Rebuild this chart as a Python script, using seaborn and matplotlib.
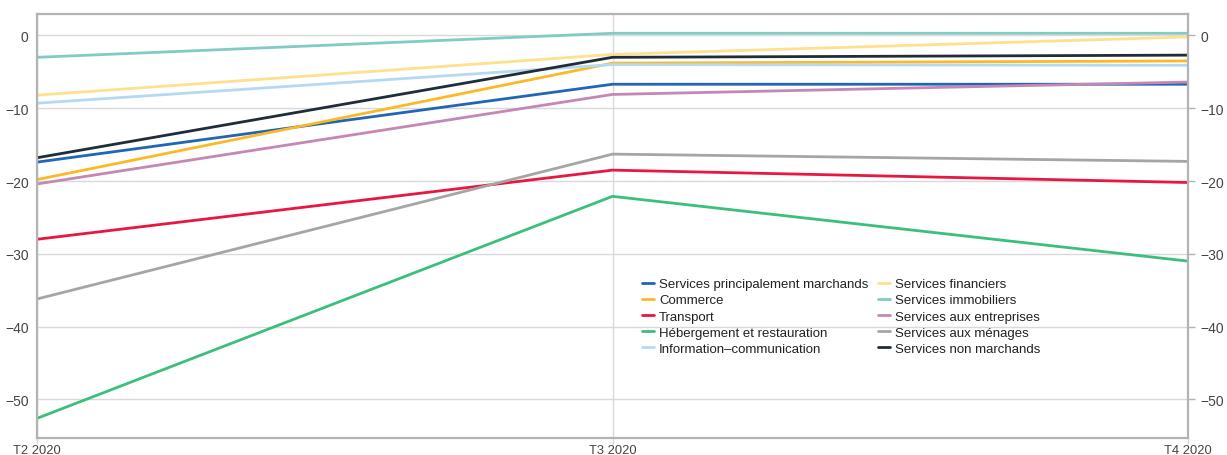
import matplotlib
matplotlib.use("Agg")
import matplotlib.pyplot as plt
import seaborn as sns
import pandas as pd

# Quarters on the x axis
quarters = ["T2 2020", "T3 2020", "T4 2020"]

# Series (legend order, column by column)
series = [
    "Services principalement marchands",
    "Commerce",
    "Transport",
    "Hébergement et restauration",
    "Information\u2013communication",
    "Services financiers",
    "Services immobiliers",
    "Services aux entreprises",
    "Services aux ménages",
    "Services non marchands",
]

marchands = [-17.4, -6.7, -6.7]
commerce = [-19.8, -3.8, -3.5]
transport = [-28.0, -18.5, -20.2]
hebergement = [-52.6, -22.1, -31.0]
information = [-9.3, -4.0, -4.1]
financiers = [-8.2, -2.6, -0.2]
immobiliers = [-3.0, 0.3, 0.3]
entreprises = [-20.4, -8.1, -6.4]
menages = [-36.2, -16.3, -17.3]
non_marchands = [-16.8, -3.0, -2.7]

values = [marchands, commerce, transport, hebergement, information,
          financiers, immobiliers, entreprises, menages, non_marchands]

colors = ["#2166b5", "#fcb926", "#e8173f", "#3cbf7d", "#b5d9f3",
          "#fee08f", "#80cbc4", "#c587b4", "#a5a5a5", "#1f2d3a"]

rows = []
for name, vals in zip(series, values):
    for i, v in enumerate(vals):
        rows.append({"serie": name, "x": i, "valeur": v})
df = pd.DataFrame(rows)

sns.set_theme(style="white")
plt.rcParams["font.family"] = ["Liberation Sans", "DejaVu Sans"]

fig = plt.figure(figsize=(12.27, 4.56), dpi=100)
ax = fig.add_axes([37 / 1227, 1 - 439 / 456, (1188 - 37) / 1227, (439 - 15) / 456])

sns.lineplot(data=df, x="x", y="valeur", hue="serie", hue_order=series,
             palette=colors, linewidth=2.0, sort=False, ax=ax, legend=True)

ymin, ymax = -55.3, 2.95
ax.set_xlim(0, 2)
ax.set_ylim(ymin, ymax)
ax.set_xticks([0, 1, 2])
ax.set_xticklabels(quarters)
ax.set_yticks([0, -10, -20, -30, -40, -50])
ax.set_yticklabels(["0", "\u221210", "\u221220", "\u221230", "\u221240", "\u221250"])
ax.set_xlabel("")
ax.set_ylabel("")

grid_c = "#d9d9d9"
ax.grid(axis="y", color=grid_c, linewidth=1.0)
ax.grid(axis="x", color=grid_c, linewidth=1.0)
ax.set_axisbelow(True)

spine_c = "#b3b3b3"
for s in ax.spines.values():
    s.set_color(spine_c)
    s.set_linewidth(1.6)

label_c = "#444444"
ax.tick_params(axis="y", left=False, length=0, pad=6, labelsize=10, labelcolor=label_c)
ax.tick_params(axis="x", bottom=True, length=4, width=1, color=grid_c,
               labelsize=9.3, labelcolor=label_c, pad=0.5)

# Duplicate the scale on the right side
ax2 = ax.twinx()
ax2.set_ylim(ymin, ymax)
ax2.set_yticks([0, -10, -20, -30, -40, -50])
ax2.set_yticklabels(["0", "\u221210", "\u221220", "\u221230", "\u221240", "\u221250"])
ax2.tick_params(axis="y", right=True, length=5, width=1, color=spine_c,
                pad=4, labelsize=10, labelcolor=label_c)
ax2.grid(False)
for s in ax2.spines.values():
    s.set_visible(False)

leg = ax.legend(ncol=2, loc="upper left", bbox_to_anchor=(642 / 1227, 1 - 279 / 456),
                bbox_transform=fig.transFigure, frameon=False, fontsize=9.5,
                handlelength=0.9, handletextpad=0.4, labelspacing=0.3,
                columnspacing=0.7, borderpad=0, borderaxespad=0)
for t in leg.get_texts():
    t.set_color("#222222")

fig.savefig("out.png", dpi=100)
